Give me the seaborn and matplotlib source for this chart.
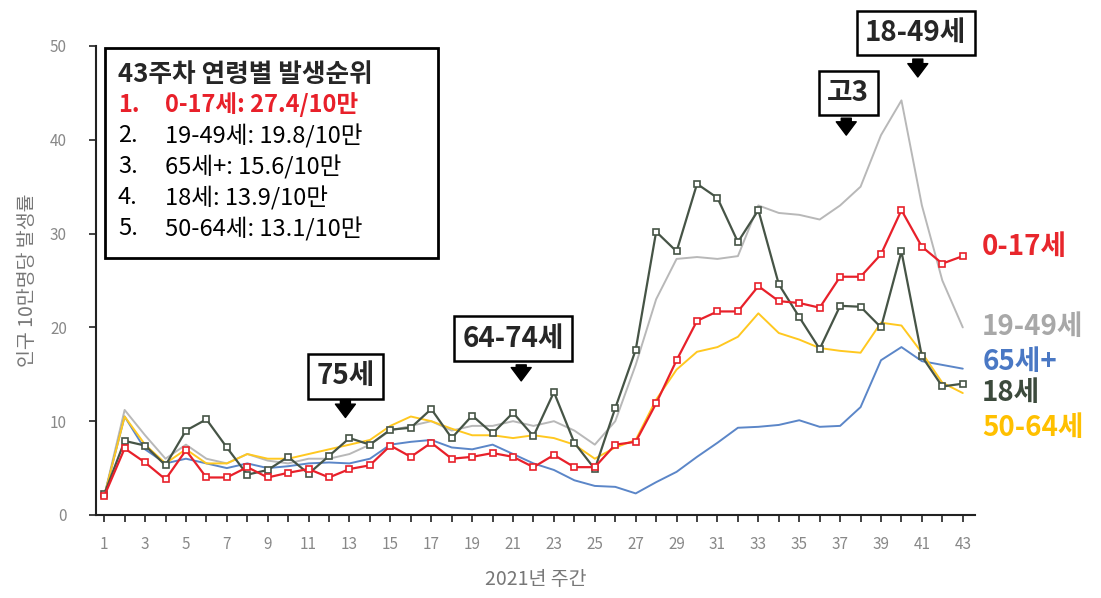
"""Weekly COVID-19 incidence per 100k by age group, 2021 (weeks 1-43)."""
import matplotlib
matplotlib.use("Agg")
import matplotlib.pyplot as plt
from matplotlib.patches import Rectangle
import seaborn as sns
import pandas as pd

# ── data ─────────────────────────────────────────────────────────────────────
weeks = list(range(1, 44))

age_0_17 = [2.0, 7.1, 5.6, 3.8, 6.9, 4.0, 4.0, 5.1, 4.0, 4.5, 4.9, 4.0, 4.9, 5.3, 7.4,
            6.2, 7.7, 6.0, 6.2, 6.6, 6.2, 5.1, 6.4, 5.1, 5.1, 7.5, 7.8, 11.9, 16.5, 20.7,
            21.7, 21.7, 24.4, 22.8, 22.6, 22.1, 25.4, 25.4, 27.8, 32.5, 28.6, 26.8, 27.6]
age_19_49 = [2.0, 11.2, 8.5, 6.0, 7.5, 6.0, 5.5, 6.5, 5.8, 5.5, 6.0, 6.0, 6.5, 7.5, 9.0,
             9.5, 10.0, 9.0, 9.5, 9.5, 10.0, 9.5, 10.0, 9.0, 7.5, 10.0, 16.0, 23.0, 27.3, 27.5,
             27.3, 27.6, 33.0, 32.2, 32.0, 31.5, 33.0, 35.0, 40.5, 44.2, 33.0, 25.0, 20.0]
age_65p = [2.0, 10.5, 7.0, 5.5, 6.0, 5.5, 5.0, 5.5, 5.0, 5.2, 5.5, 5.6, 5.5, 6.0, 7.5,
           7.8, 8.0, 7.2, 7.0, 7.5, 6.5, 5.5, 4.8, 3.7, 3.1, 3.0, 2.3, 3.5, 4.6, 6.2,
           7.7, 9.3, 9.4, 9.6, 10.1, 9.4, 9.5, 11.5, 16.5, 17.9, 16.4, 16.0, 15.6]
age_18 = [2.2, 7.9, 7.4, 5.3, 9.0, 10.2, 7.2, 4.3, 4.8, 6.2, 4.4, 6.3, 8.2, 7.5, 9.1,
          9.3, 11.3, 8.2, 10.6, 8.7, 10.9, 8.4, 13.1, 7.7, 4.9, 11.4, 17.6, 30.2, 28.1, 35.3,
          33.8, 29.1, 32.5, 24.6, 21.1, 17.7, 22.3, 22.2, 20.0, 28.1, 16.9, 13.7, 14.0]
age_50_64 = [2.0, 10.5, 7.5, 5.5, 7.0, 5.5, 5.5, 6.5, 6.0, 6.0, 6.5, 7.0, 7.5, 8.0, 9.5,
             10.5, 10.0, 9.2, 8.5, 8.5, 8.2, 8.5, 8.2, 7.5, 6.0, 7.2, 8.0, 12.3, 15.5, 17.4,
             17.9, 19.0, 21.5, 19.4, 18.7, 17.8, 17.5, 17.3, 20.5, 20.2, 17.3, 14.1, 13.0]

groups = ["19-49세", "65세+", "50-64세", "18세", "0-17세"]
colors = {"0-17세": "#E8202A", "19-49세": "#B8B8B8", "65세+": "#5B86C8",
          "18세": "#465446", "50-64세": "#FFC820"}
label_colors = {"0-17세": "#E8262C", "19-49세": "#A8A8A8", "65세+": "#4A78C4",
                "18세": "#3C4A3C", "50-64세": "#FFC000"}
end_label_y = {"0-17세": 28.6, "19-49세": 20.0, "65세+": 16.3, "18세": 13.0, "50-64세": 9.3}

ranking_title = "43주차 연령별 발생순위"
ranking = ["0-17세: 27.4/10만", "19-49세: 19.8/10만", "65세+: 15.6/10만",
           "18세: 13.9/10만", "50-64세: 13.1/10만"]

# (text, box x, box y, arrow x, arrow tail y, arrow tip y)
callouts = [
    ("75세", 12.8, 14.8, 12.8, 12.6, 10.1),
    ("64-74세", 21.0, 18.8, 21.4, 16.3, 14.0),
    ("고3", 37.4, 45.0, 37.3, 42.6, 40.2),
    ("18-49세", 40.7, 51.4, 40.8, 48.9, 46.4),
]

series = {"0-17세": age_0_17, "19-49세": age_19_49, "65세+": age_65p,
          "18세": age_18, "50-64세": age_50_64}
df = pd.DataFrame({"week": weeks, **series}).melt(
    id_vars="week", var_name="group", value_name="rate")

# ── plot ─────────────────────────────────────────────────────────────────────
sns.set_style("white")
plt.rcParams["font.family"] = ["Noto Sans CJK KR", "DejaVu Sans"]

fig = plt.figure(figsize=(11.01, 5.98), dpi=100)
ax = fig.add_axes([0.0872, 0.1388, 0.7984, 0.7843])

for g in groups:
    marked = g in ("0-17세", "18세")
    sns.lineplot(
        data=df[df["group"] == g], x="week", y="rate", ax=ax,
        color=colors[g], linewidth=1.6 if marked else 1.4,
        marker="s" if marked else None, markersize=5,
        markerfacecolor="white", markeredgecolor=colors[g], markeredgewidth=1.2,
        zorder=3 if marked else 2,
    )
    ax.text(43.95, end_label_y[g], g, color=label_colors[g], fontsize=20,
            fontweight="bold", va="center", ha="left")

ax.set_xlim(0.6, 43.6)
ax.set_ylim(0, 50)
ax.set_xticks(weeks)
ax.set_xticklabels([str(w) if w % 2 == 1 else "" for w in weeks])
ax.set_yticks(range(0, 51, 10))
ax.tick_params(axis="both", direction="out", length=5, width=1.2,
               bottom=True, left=True,
               colors="#222222", labelcolor="#888888", labelsize=11)
ax.tick_params(axis="y", pad=16)
ax.tick_params(axis="x", pad=10)
for side in ("top", "right"):
    ax.spines[side].set_visible(False)
for side in ("left", "bottom"):
    ax.spines[side].set_color("#222222")
    ax.spines[side].set_linewidth(1.5)

ax.set_xlabel("2021년 주간", color="#777777", fontsize=14, labelpad=12)
ax.set_ylabel("인구 10만명당 발생률", color="#777777", fontsize=14)
ax.yaxis.set_label_coords(-0.066, 0.5)

# ranking box
ax.add_patch(Rectangle((0.010, 0.548), 0.379, 0.448, transform=ax.transAxes,
                       fill=True, facecolor="white", edgecolor="black",
                       linewidth=2, zorder=5))
ax.text(0.025, (515 - 75) / 469, ranking_title, transform=ax.transAxes,
        fontsize=18.5, fontweight="bold", va="center", zorder=6)
row_y = [105, 136, 167, 198, 229]
for i, (txt, py) in enumerate(zip(ranking, row_y)):
    col = "#E8202A" if i == 0 else "black"
    wt = "bold" if i == 0 else "normal"
    yy = (515 - py) / 469
    ax.text(0.025, yy, f"{i + 1}.", transform=ax.transAxes, fontsize=17,
            color=col, fontweight=wt, va="center", zorder=6)
    ax.text(0.078, yy, txt, transform=ax.transAxes, fontsize=17,
            color=col, fontweight=wt, va="center", zorder=6)

# callouts with arrows
for txt, bx, by, axx, ty, hy in callouts:
    ax.text(bx, by, txt, fontsize=20, fontweight="bold", ha="center", va="center",
            bbox=dict(boxstyle="square,pad=0.3", facecolor="white",
                      edgecolor="black", linewidth=1.8), zorder=6)
    ax.annotate("", xy=(axx, hy), xytext=(axx, ty), zorder=6,
                arrowprops=dict(arrowstyle="simple,head_length=0.6,head_width=0.9,tail_width=0.45",
                                color="black", mutation_scale=16))

fig.savefig("out.png", dpi=100)
